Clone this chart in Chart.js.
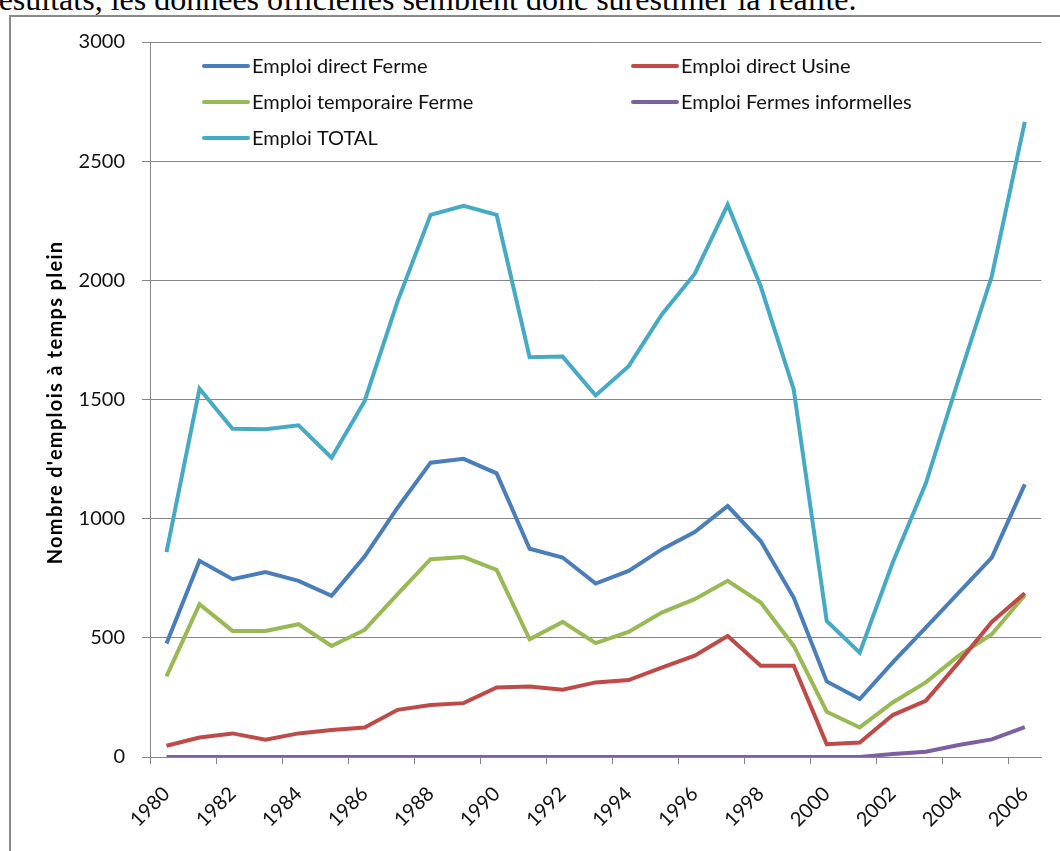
<!DOCTYPE html>
<html lang="fr">
<head>
<meta charset="utf-8">
<title>Emploi</title>
<script src="https://cdn.jsdelivr.net/npm/chart.js@4.4.0/dist/chart.umd.min.js"></script>
<style>
  html, body { margin: 0; padding: 0; background: #fff; }
  #page { position: relative; width: 1060px; height: 851px; overflow: hidden; }
  #texte { position: absolute; left: -12px; top: -17px; font-family: "Liberation Serif", "Times New Roman", serif;
           font-size: 32px; line-height: 1; white-space: nowrap; color: #000; }
  #cadre { position: absolute; left: 9px; top: 15px; width: 1100px; height: 900px;
           border-left: 2px solid #8a8a8a; border-top: 2px solid #8a8a8a; }
  #zone { position: absolute; left: 0; top: 0; width: 1060px; height: 851px; }
</style>
</head>
<body>
<div id="page">
  <div id="texte">résultats, les données officielles semblent donc surestimer la réalité.</div>
  <div id="cadre"></div>
  <div id="zone"><canvas id="graphique"></canvas></div>
</div>
<script>
// données
var annees = ['1980', '1981', '1982', '1983', '1984', '1985', '1986', '1987', '1988', '1989',
              '1990', '1991', '1992', '1993', '1994', '1995', '1996', '1997', '1998', '1999',
              '2000', '2001', '2002', '2003', '2004', '2005', '2006'];

var emploiDirectFerme = [476, 823, 746, 776, 739, 676, 841, 1046, 1235, 1251,
                         1190, 874, 837, 728, 781, 871, 944, 1053, 906, 669,
                         317, 243, 397, 543, 690, 837, 1144];
var emploiDirectUsine = [47, 82, 99, 73, 99, 113, 124, 198, 218, 226,
                         292, 296, 282, 313, 323, 375, 425, 508, 383, 383,
                         54, 61, 176, 236, 397, 567, 687];
var emploiTemporaireFerme = [338, 641, 529, 529, 557, 466, 533, 683, 830, 839,
                             785, 494, 567, 478, 525, 606, 662, 739, 648, 466,
                             190, 124, 229, 313, 425, 515, 679];
var emploiFermesInformelles = [0, 0, 0, 0, 0, 0, 0, 0, 0, 0,
                               0, 0, 0, 0, 0, 0, 0, 0, 0, 0,
                               0, 0, 13, 22, 50, 74, 125];
var emploiTotal = [860, 1545, 1377, 1375, 1392, 1256, 1493, 1912, 2275, 2313,
                   2275, 1677, 1680, 1517, 1640, 1856, 2027, 2317, 1975, 1542,
                   571, 438, 816, 1147, 1587, 2017, 2665];

var nomsSeries = ['Emploi direct Ferme', 'Emploi direct Usine', 'Emploi temporaire Ferme',
                  'Emploi Fermes informelles', 'Emploi TOTAL'];
var couleurs = ['#4a7ebb', '#be4b48', '#98b954', '#7d60a0', '#46aac5'];
var titreY = "Nombre d'emplois à temps plein";

var yMin = 0, yMax = 3000, yPas = 500;
var gris = '#868686';
var police = 'Lato, "Open Sans", sans-serif';

function serie(i, valeurs) {
  return {
    label: nomsSeries[i],
    data: valeurs,
    borderColor: couleurs[i],
    backgroundColor: couleurs[i],
    borderWidth: 4,
    pointRadius: 0,
    tension: 0,
    fill: false
  };
}

// légende dessinée dans la zone du graphique, sur deux colonnes
var legendeInterne = {
  id: 'legendeInterne',
  afterDatasetsDraw: function(chart) {
    var ctx = chart.ctx;
    var colX = [204, 633];
    var ligneY = [66, 102, 138];
    ctx.save();
    ctx.font = '20px ' + police;
    ctx.textBaseline = 'middle';
    ctx.fillStyle = '#111';
    chart.data.datasets.forEach(function(ds, i) {
      var x = colX[i % 2];
      var y = ligneY[Math.floor(i / 2)];
      ctx.strokeStyle = ds.borderColor;
      ctx.lineWidth = 4;
      ctx.lineCap = 'round';
      ctx.beginPath();
      ctx.moveTo(x, y);
      ctx.lineTo(x + 44, y);
      ctx.stroke();
      ctx.fillText(ds.label, x + 48, y + 1);
    });
    ctx.restore();
  }
};

// titre de l'axe vertical (un peu espacé comme dans l'original)
var titreAxe = {
  id: 'titreAxe',
  afterDraw: function(chart) {
    var ctx = chart.ctx;
    var a = chart.chartArea;
    ctx.save();
    ctx.translate(62, (a.top + a.bottom) / 2 + 3);
    ctx.rotate(-Math.PI / 2);
    ctx.font = 'bold 20px ' + police;
    if ('letterSpacing' in ctx) ctx.letterSpacing = '1.3px';
    ctx.textAlign = 'center';
    ctx.textBaseline = 'alphabetic';
    ctx.fillStyle = '#000';
    ctx.fillText(titreY, 0, 0);
    ctx.restore();
  }
};

var ctx = document.getElementById('graphique').getContext('2d');
new Chart(ctx, {
  type: 'line',
  data: {
    labels: annees,
    datasets: [
      serie(0, emploiDirectFerme),
      serie(1, emploiDirectUsine),
      serie(2, emploiTemporaireFerme),
      serie(3, emploiFermesInformelles),
      serie(4, emploiTotal)
    ]
  },
  options: {
    responsive: true,
    maintainAspectRatio: false,
    animation: false,
    layout: { padding: { left: 0, top: 42, right: 13, bottom: 0 } },
    plugins: {
      legend: { display: false },
      tooltip: { enabled: false }
    },
    scales: {
      x: {
        type: 'category',
        offset: true,
        afterFit: function(scale) { scale.height = 94; },
        border: { color: gris, width: 1 },
        grid: {
          offset: true,
          drawOnChartArea: false,
          drawTicks: true,
          tickLength: 7,
          color: function(c) { return (c.index % 2 === 0) ? gris : 'rgba(0,0,0,0)'; }
        },
        ticks: {
          autoSkip: false,
          minRotation: 45,
          maxRotation: 45,
          padding: 18,
          color: '#111',
          font: { family: police, size: 20 },
          callback: function(v, i) { return (i % 2 === 0) ? annees[i] : ''; }
        }
      },
      y: {
        min: yMin,
        max: yMax,
        afterFit: function(scale) { scale.width = 150; },
        border: { color: gris, width: 1 },
        grid: { color: gris, lineWidth: 1, tickLength: 8 },
        ticks: {
          stepSize: yPas,
          padding: 17,
          color: '#111',
          font: { family: police, size: 20 },
          callback: function(v) { return String(v); }
        }
      }
    }
  },
  plugins: [legendeInterne, titreAxe]
});
</script>
</body>
</html>
